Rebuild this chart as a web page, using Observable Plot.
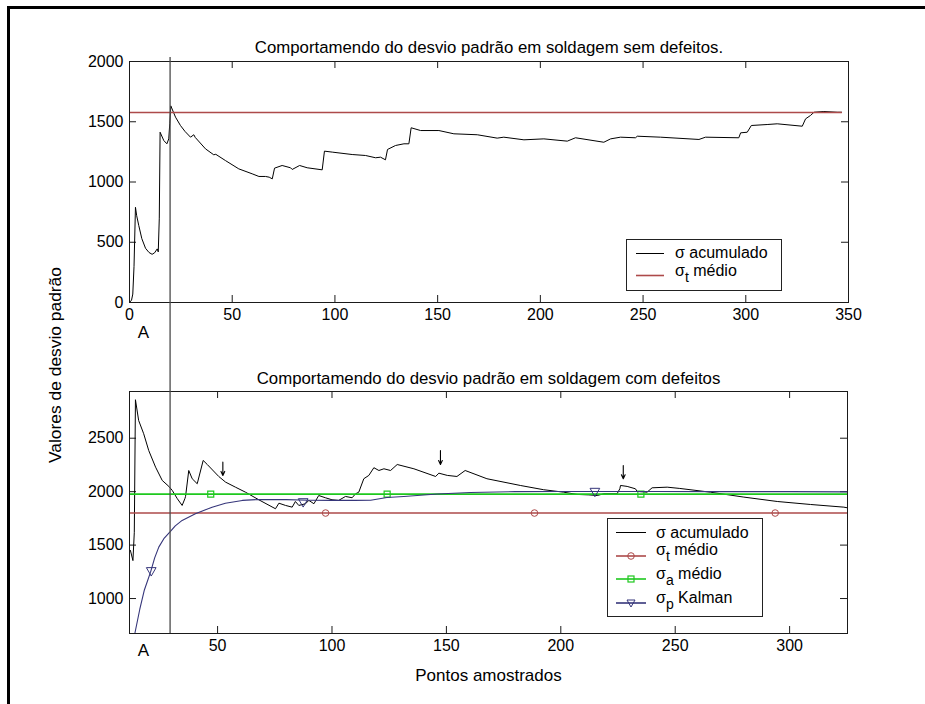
<!DOCTYPE html>
<html>
<head>
<meta charset="utf-8">
<script src="https://cdn.jsdelivr.net/npm/d3@7"></script>
<script src="https://cdn.jsdelivr.net/npm/@observablehq/plot@0.6"></script>
<style>
  body { margin: 0; background: #fff; }
  #fig { position: relative; width: 925px; height: 704px; background: #fff; overflow: hidden; }
  #fig > svg { position: absolute; left: 0; }
</style>
</head>
<body>
<div id="fig"></div>
<script>
// ---- Soldagem sem defeitos: desvio padrão acumulado ----
const semX = [0, 1, 1.6, 2.2, 2.9, 3.5, 4.5, 6, 7.8, 9.5, 11, 12.2, 13.5, 14, 14.5, 14.9, 16.7, 18.2, 19.1, 19.6, 20.1,
  22.4, 24.8, 27, 29.7, 31.3, 32, 37, 41, 42, 46.7, 53.2, 59.7, 63, 66.2, 68, 69.5, 70.6, 74.3, 78.4, 79.2, 82.8, 86.5,
  93.8, 94.9, 98.7, 108.4, 114.9, 119.8, 122.2, 124.6, 125.6, 129.5, 133.6, 136, 137.1, 141.7, 150.6, 157.9, 169.3,
  179, 182.2, 192, 201.7, 213.1, 217.1, 230.9, 234.2, 239, 246.3, 247.2, 258.5, 277.2, 280.4, 296.6, 297.5, 300.7,
  302.7, 310.4, 315.3, 327.5, 329.1, 331.5, 333.2, 338, 344.5, 346.6];
const semSigma = [0, 20, 70, 300, 790, 720, 640, 530, 450, 415, 400, 412, 445, 420, 700, 1413, 1344, 1317, 1358, 1483, 1632,
  1538, 1469, 1420, 1372, 1392, 1370, 1275, 1226, 1230, 1178, 1109, 1068, 1046, 1046, 1040, 1026, 1115, 1137, 1118, 1104, 1137, 1118,
  1101, 1256, 1248, 1228, 1220, 1201, 1206, 1184, 1270, 1303, 1317, 1317, 1450, 1427, 1427, 1400, 1392,
  1364, 1372, 1350, 1358, 1339, 1367, 1330, 1358, 1372, 1367, 1380, 1372, 1353, 1372, 1367, 1408, 1413,
  1469, 1477, 1483, 1463, 1524, 1552, 1579, 1585, 1579, 1579];
const semSigmaT = 1577;            // σt médio
const semSigmaTSpan = [0, 347];
const semXDomain = [0, 350];
const semYDomain = [0, 2000];
const semXTicks = [0, 50, 100, 150, 200, 250, 300, 350];
const semYTicks = [0, 500, 1000, 1500, 2000];

// ---- Soldagem com defeitos ----
const comX = [11.9, 13, 13.6, 14.1, 15.5, 17.7, 19.9, 22.9, 25.8, 28.7, 30.2, 32.4, 34.5, 35.7, 36, 37.4, 38.9, 41.1, 43.7,
  45.5, 50.5, 53.5, 57.8, 62.2, 68, 75.3, 76.8, 79.7, 82.6, 84, 85.5, 88.4, 89.9, 92.1, 94.2, 97.1, 100, 102.9, 105.9,
  108.8, 110.3, 111.7, 113.9, 116.1, 118.3, 120.5, 122.7, 125.6, 128.5, 135.8, 145.3, 146.7, 150.4, 154.6, 158.2,
  167.7, 182.3, 192.5, 201.3, 207.1, 212, 215.9, 218.8, 224.6, 225.8, 226.1, 229, 232.6, 233.4, 237.7, 239.9, 246.5,
  252, 265.4, 280, 294.6, 309.1, 323.7, 325.2];
const comSigma = [1450, 1355, 1620, 2860, 2666, 2542, 2385, 2229, 2105, 2049, 2011, 1934, 1871, 1934, 1955, 2198, 2121, 2074, 2292,
  2254, 2142, 2089, 2042, 1995, 1924, 1840, 1892, 1871, 1855, 1908, 1871, 1887, 1918, 1887, 1964, 1943, 1924, 1918, 1955,
  1943, 1980, 1995, 2121, 2152, 2224, 2198, 2214, 2198, 2254, 2214, 2142, 2173, 2152, 2142, 2198,
  2121, 2058, 2018, 1995, 1974, 1970, 1964, 1980, 1980, 2027, 2058, 2049, 2027, 2002, 1995, 2036, 2042,
  2030, 1995, 1949, 1908, 1880, 1855, 1849];
const kalX = [13.9, 16, 18, 20.7, 22.5, 24.3, 26.5, 29.1, 31.5, 34.5, 40.3, 47.6, 53.4, 60.8, 68, 80, 90, 100, 110, 116.9,
  124, 131.4, 146, 160.5, 180, 200, 215, 240, 270, 300, 325.2];
const kalSigma = [680, 900, 1080, 1247, 1380, 1481, 1560, 1621, 1680, 1731, 1793, 1855, 1892, 1918, 1927, 1925, 1920, 1918, 1918, 1920,
  1945, 1955, 1978, 1992, 2000, 2002, 2002, 2001, 2000, 2000, 1998];
const comSigmaT = 1800;            // σt médio
const comSigmaA = 1977;            // σa médio
const tMarkX = [97.2, 188.5, 293.7];
const aMarkX = [47, 124.1, 235];
const pMarkX = [21, 87.4, 214.9];
const pMarkY = [1263, 1908, 2005];
const arrowX = [52.3, 147.4, 227.3];
const arrowTop = [2276, 2385, 2245];
const arrowTip = [2152, 2254, 2121];
const comXDomain = [11.5, 325.3];
const comYDomain = [673, 2937];
const comXTicks = [50, 100, 150, 200, 250, 300];
const comYTicks = [1000, 1500, 2000, 2500];

// vertical cut line (in the upper plot's x units) and the "A" marks
const cutX = 20;
const labelASem = 6.8;
const labelACom = 17.6;

const FONT = '"Liberation Sans", Arial, Helvetica, sans-serif';
const RED = "#ad4a4a";
const GREEN = "#1ec81e";
const KAL = "#35357a";
const AXIS = "#1a1a1a";
const W = 925;
const fmt = d => String(d);

function boxTicks(xTicks, yTicks, innerW, innerH) {
  const L = 7;
  return [
    Plot.tickX(xTicks, {x: d => d, insetBottom: innerH - L, stroke: AXIS}),
    Plot.tickX(xTicks, {x: d => d, insetTop: innerH - L, stroke: AXIS}),
    Plot.tickY(yTicks, {y: d => d, insetRight: innerW - L, stroke: AXIS}),
    Plot.tickY(yTicks, {y: d => d, insetLeft: innerW - L, stroke: AXIS})
  ];
}

const fig = document.getElementById("fig");

// ---- upper plot ----
const semM = {top: 61, right: 77, bottom: 43, left: 129};
const semH = 345;
const semPlot = Plot.plot({
  width: W, height: semH,
  marginTop: semM.top, marginRight: semM.right, marginBottom: semM.bottom, marginLeft: semM.left,
  style: {fontFamily: FONT, fontSize: "16px", color: "#000", background: "transparent"},
  x: {domain: semXDomain},
  y: {domain: semYDomain},
  marks: [
    Plot.axisX(semXTicks, {tickSize: 0, tickPadding: 6, label: null, fontSize: 16, tickFormat: fmt}),
    Plot.axisY(semYTicks, {tickSize: 0, tickPadding: 6, label: null, fontSize: 16, tickFormat: fmt}),
    ...boxTicks(semXTicks, semYTicks, W - semM.left - semM.right, semH - semM.top - semM.bottom),
    Plot.lineY(semSigma, {x: semX, stroke: "#000", strokeWidth: 1}),
    Plot.ruleY([semSigmaT], {x1: semSigmaTSpan[0], x2: semSigmaTSpan[1], stroke: RED, strokeWidth: 1.6}),
    Plot.frame({stroke: AXIS}),
    Plot.text(["Comportamendo do desvio padrão em soldagem sem defeitos."],
      {frameAnchor: "top", dy: -20, fontSize: 16.8, fill: "#000"}),
    Plot.text(["A"], {x: [labelASem], frameAnchor: "bottom", dy: 35, fontSize: 17, fill: "#000"})
  ]
});
semPlot.style.top = "0px";
fig.appendChild(semPlot);

// ---- lower plot ----
const comTop = 345;
const comM = {top: 46, right: 78, bottom: 71, left: 129};
const comH = 704 - comTop;
const comPlot = Plot.plot({
  width: W, height: comH,
  marginTop: comM.top, marginRight: comM.right, marginBottom: comM.bottom, marginLeft: comM.left,
  style: {fontFamily: FONT, fontSize: "16px", color: "#000", background: "transparent"},
  x: {domain: comXDomain},
  y: {domain: comYDomain},
  marks: [
    Plot.axisX(comXTicks, {tickSize: 0, tickPadding: 6, label: null, fontSize: 16, tickFormat: fmt}),
    Plot.axisY(comYTicks, {tickSize: 0, tickPadding: 6, label: null, fontSize: 16, tickFormat: fmt}),
    ...boxTicks(comXTicks, comYTicks, W - comM.left - comM.right, comH - comM.top - comM.bottom),
    Plot.lineY(comSigma, {x: comX, stroke: "#000", strokeWidth: 1, clip: true}),
    Plot.ruleY([comSigmaT], {stroke: RED, strokeWidth: 1.6}),
    Plot.dot(tMarkX, {x: d => d, y: () => comSigmaT, r: 3.3, stroke: RED, fill: "none", strokeWidth: 1}),
    Plot.ruleY([comSigmaA], {stroke: GREEN, strokeWidth: 1.6}),
    Plot.dot(aMarkX, {x: d => d, y: () => comSigmaA, symbol: "square", r: 3.4, stroke: GREEN, fill: "none", strokeWidth: 1.2}),
    Plot.lineY(kalSigma, {x: kalX, stroke: KAL, strokeWidth: 1.1, clip: true}),
    Plot.dot(pMarkX, {x: d => d, y: (d, i) => pMarkY[i], symbol: "triangle", rotate: 180, r: 3.6, stroke: KAL, fill: "none", strokeWidth: 1}),
    Plot.arrow(arrowX, {x: d => d, y1: (d, i) => arrowTop[i], y2: (d, i) => arrowTip[i], headLength: 6, headAngle: 50, stroke: "#000", strokeWidth: 1.1}),
    Plot.frame({stroke: AXIS}),
    Plot.text(["Comportamendo do desvio padrão em soldagem com defeitos"],
      {frameAnchor: "top", dy: -19, fontSize: 16.8, fill: "#000"}),
    Plot.text(["Pontos amostrados"], {frameAnchor: "bottom", dy: 47, fontSize: 17, fill: "#000"}),
    Plot.text(["A"], {x: [labelACom], frameAnchor: "bottom", dy: 22, fontSize: 17, fill: "#000"})
  ]
});
comPlot.style.top = comTop + "px";
fig.appendChild(comPlot);

// ---- overlay: border, shared y label, cut line, legends ----
const ov = d3.create("svg")
  .attr("width", W).attr("height", 704)
  .style("top", "0px")
  .style("pointer-events", "none")
  .style("font-family", FONT)
  .style("font-size", "16px");

ov.append("line").attr("x1", 8).attr("x2", W).attr("y1", 7.5).attr("y2", 7.5)
  .attr("stroke", "#000").attr("stroke-width", 3);
ov.append("line").attr("x1", 8.5).attr("x2", 8.5).attr("y1", 6).attr("y2", 704)
  .attr("stroke", "#000").attr("stroke-width", 3);

// cut line through both plots
const cutPx = semPlot.scale("x").apply(cutX);
const cutTop = semPlot.scale("y").apply(semYDomain[1]) - 4;
const cutBottom = comTop + comPlot.scale("y").apply(comYDomain[0]);
ov.append("line").attr("x1", cutPx).attr("x2", cutPx).attr("y1", cutTop).attr("y2", cutBottom)
  .attr("stroke", "#4a4a4a").attr("stroke-width", 1.3);

ov.append("text")
  .attr("transform", "translate(61,365) rotate(-90)")
  .attr("text-anchor", "middle")
  .attr("font-size", 17.4)
  .text("Valores de desvio padrão");

function legendEntry(g, y, textY, x0, x1, tx, color, main, sub, rest, marker) {
  g.append("line").attr("x1", x0).attr("x2", x1).attr("y1", y).attr("y2", y)
    .attr("stroke", color).attr("stroke-width", color === "#000" ? 1 : 1.6);
  if (marker) marker(g, (x0 + x1) / 2, y);
  const t = g.append("text").attr("x", tx).attr("y", textY);
  t.append("tspan").text(main);
  if (sub) {
    t.append("tspan").attr("dy", 6).attr("font-size", 14).text(sub);
    t.append("tspan").attr("dy", -6).text(rest);
  }
}

// upper legend
const lg1 = ov.append("g");
lg1.append("rect").attr("x", 626.5).attr("y", 239.5).attr("width", 155).attr("height", 51)
  .attr("fill", "#fff").attr("stroke", "#222");
legendEntry(lg1, 253.5, 258, 636, 664, 675, "#000", "σ acumulado");
legendEntry(lg1, 275.5, 276, 636, 664, 675, RED, "σ", "t", " médio");

// lower legend
const lg2 = ov.append("g");
lg2.append("rect").attr("x", 607.5).attr("y", 518.5).attr("width", 155).attr("height", 98)
  .attr("fill", "#fff").attr("stroke", "#222");
legendEntry(lg2, 532.5, 538, 616, 646, 656, "#000", "σ acumulado");
legendEntry(lg2, 556, 555, 616, 646, 656, RED, "σ", "t", " médio",
  (g, cx, cy) => g.append("circle").attr("cx", cx).attr("cy", cy).attr("r", 3.3)
    .attr("fill", "none").attr("stroke", RED));
legendEntry(lg2, 579, 579, 616, 646, 656, GREEN, "σ", "a", " médio",
  (g, cx, cy) => g.append("rect").attr("x", cx - 3).attr("y", cy - 3).attr("width", 6).attr("height", 6)
    .attr("fill", "none").attr("stroke", GREEN).attr("stroke-width", 1.2));
legendEntry(lg2, 603, 603, 616, 646, 656, KAL, "σ", "p", " Kalman",
  (g, cx, cy) => g.append("path").attr("d", `M${cx - 4},${cy - 3}L${cx + 4},${cy - 3}L${cx},${cy + 4}Z`)
    .attr("fill", "none").attr("stroke", KAL));

fig.appendChild(ov.node());
</script>
</body>
</html>
